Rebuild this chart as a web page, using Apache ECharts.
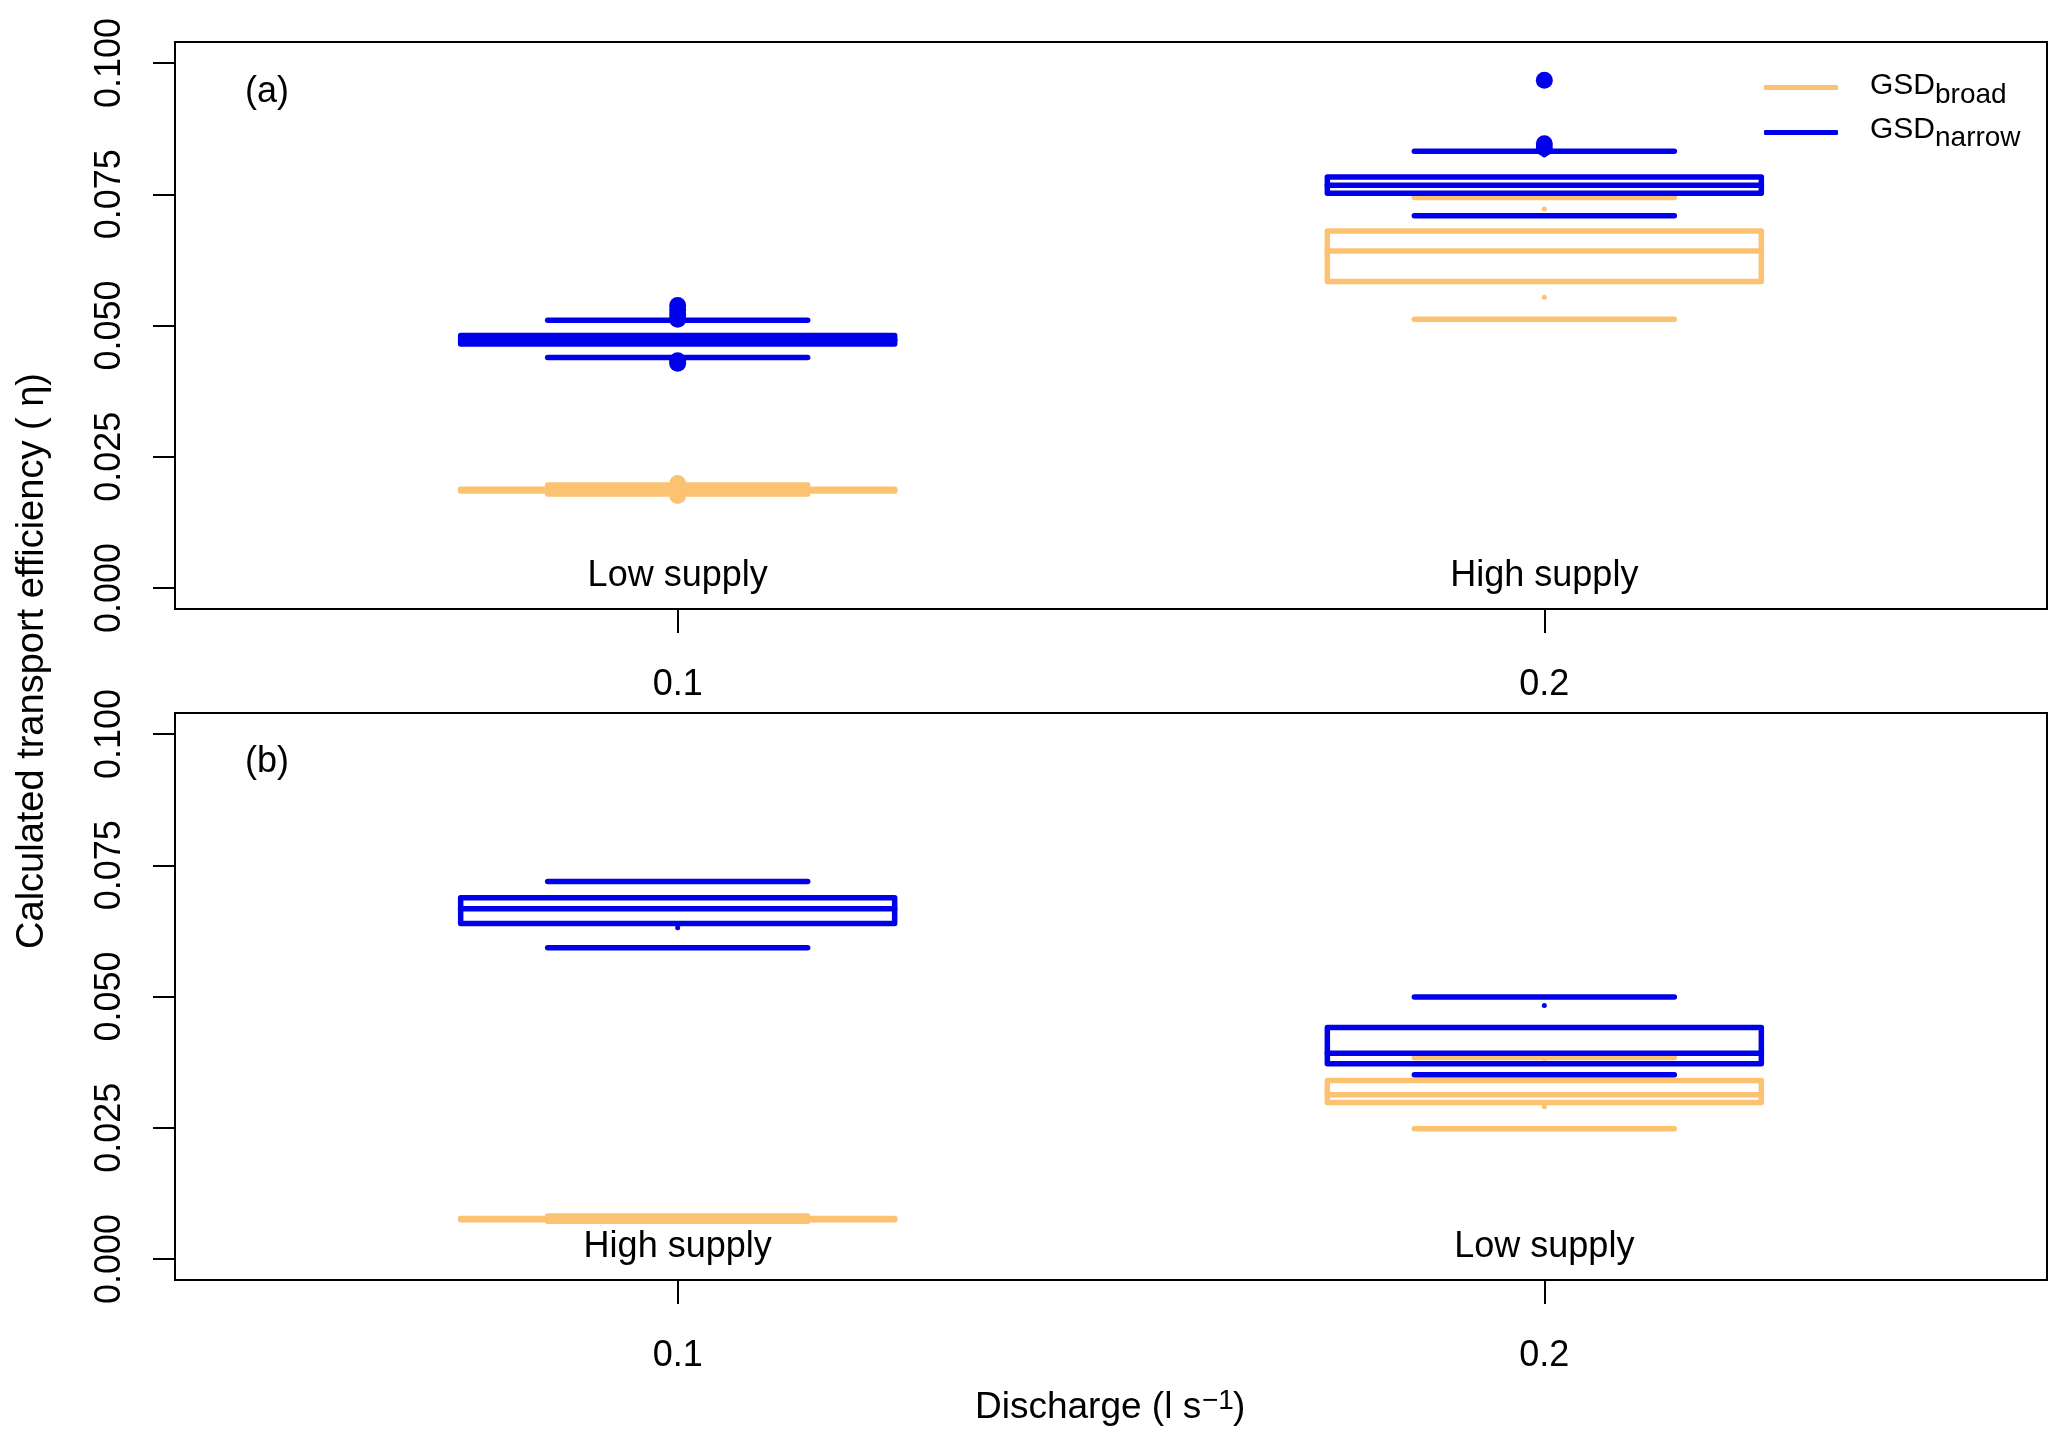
<!DOCTYPE html>
<html><head><meta charset="utf-8">
<script src="https://cdn.jsdelivr.net/npm/echarts@6/dist/echarts.min.js"></script>
<style>html,body{margin:0;padding:0;background:#fff}#c{width:2067px;height:1448px}</style>
</head><body><div id="c"></div>
<script>
// ---------------- data ----------------
const discharge = [0.1, 0.2];
const yTicks = [0, 0.025, 0.05, 0.075, 0.1];
// box statistics per discharge: [q1, median, q3, lowerWhisker, upperWhisker]
const broadA  = [[0.0185, 0.0187, 0.0188, 0.0179, 0.0196], [0.0584, 0.0642, 0.0680, 0.0512, 0.0744]];
const narrowA = [[0.0465, 0.0473, 0.0481, 0.0439, 0.0510], [0.0752, 0.0767, 0.0783, 0.0709, 0.0832]];
const broadB  = [[0.0075, 0.0076, 0.0077, 0.0072, 0.0082], [0.0298, 0.0313, 0.0340, 0.0248, 0.0384]];
const narrowB = [[0.0639, 0.0667, 0.0688, 0.0593, 0.0719], [0.0372, 0.0392, 0.0441, 0.0351, 0.0499]];
// outliers [discharge, value]
const broadAOut  = [[0.1, 0.0176], [0.1, 0.0199]];
const narrowAOut = [[0.1, 0.0512], [0.1, 0.0520], [0.1, 0.0530], [0.1, 0.0538], [0.1, 0.0428], [0.1, 0.0433],
                    [0.2, 0.0967], [0.2, 0.0846], [0.2, 0.0838]];
// small whisker marks [discharge, value]
const broadADots  = [[0.2, 0.0722], [0.2, 0.0554]];
const narrowADots = [[0.2, 0.0825]];
const broadBDots  = [[0.2, 0.0382], [0.2, 0.0290]];
const narrowBDots = [[0.1, 0.0631], [0.2, 0.0483]];
const supplyA = ['Low supply', 'High supply'];
const supplyB = ['High supply', 'Low supply'];
const panelLabels = ['(a)', '(b)'];
const legendMain = ['GSD', 'GSD'];
const legendSub = ['broad', 'narrow'];

// ---------------- style ----------------
const FONT = 'Liberation Sans, Arial, Helvetica, sans-serif';
const ORANGE = '#FBC272';
const BLUE = '#0000EA';
const GRID_TOP = [42, 713];
const GRID_H = 567;

function boxSeries(name, stats, g, color) {
  return {
    type: 'custom', name: name, xAxisIndex: g, yAxisIndex: g,
    itemStyle: { color: color },
    data: stats.map((s, i) => [discharge[i]].concat(s)),
    encode: { x: 0, y: [1, 2, 3, 4, 5] },
    renderItem: function (params, api) {
      const x = api.value(0);
      const q1 = api.coord([x, api.value(1)]);
      const md = api.coord([x, api.value(2)]);
      const q3 = api.coord([x, api.value(3)]);
      const lo = api.coord([x, api.value(4)]);
      const hi = api.coord([x, api.value(5)]);
      const cx = q1[0];
      const bw = 217, cw = 130;
      const st = { stroke: color, lineWidth: 5.5, fill: 'none', lineCap: 'round', lineJoin: 'round' };
      return {
        type: 'group', children: [
          { type: 'line', shape: { x1: cx - cw, y1: lo[1], x2: cx + cw, y2: lo[1] }, style: st },
          { type: 'line', shape: { x1: cx - cw, y1: hi[1], x2: cx + cw, y2: hi[1] }, style: st },
          { type: 'rect', shape: { x: cx - bw, y: q3[1], width: 2 * bw, height: q1[1] - q3[1] }, style: st },
          { type: 'line', shape: { x1: cx - bw, y1: md[1], x2: cx + bw, y2: md[1] }, style: st }
        ]
      };
    }
  };
}
function pointSeries(name, data, g, color, size) {
  return {
    type: 'scatter', name: name, xAxisIndex: g, yAxisIndex: g, data: data,
    symbol: 'circle', symbolSize: size, itemStyle: { color: color, opacity: 1 }, silent: true
  };
}
function supplySeries(labels, g) {
  return {
    type: 'custom', name: 'supply' + g, xAxisIndex: g, yAxisIndex: g, silent: true,
    data: discharge.map(d => [d, 0]),
    renderItem: function (params, api) {
      const p = api.coord([api.value(0), api.value(1)]);
      return {
        type: 'text', x: p[0], y: p[1] - 12,
        style: { text: labels[params.dataIndex], fontSize: 36, fontFamily: FONT, fill: '#000',
                 align: 'center', verticalAlign: 'middle', textAlign: 'center', textVerticalAlign: 'middle' }
      };
    }
  };
}
function txt(text, x, y, size, align, extra) {
  return Object.assign({ type: 'text', x: x, y: y,
    style: { text: text, fontSize: size, fontFamily: FONT, fill: '#000',
             align: align, verticalAlign: 'middle', textAlign: align, textVerticalAlign: 'middle' } }, extra || {});
}

const grids = GRID_TOP.map(t => ({ left: 175, right: 20, top: t, height: GRID_H, show: true,
  borderColor: '#000', borderWidth: 2, backgroundColor: 'transparent', containLabel: false }));

const xAxes = [0, 1].map(i => ({
  type: 'value', gridIndex: i, min: 0.042, max: 0.258, position: 'bottom',
  axisLine: { show: false, onZero: false }, splitLine: { show: false },
  axisTick: { show: true, inside: false, customValues: discharge, length: 24, lineStyle: { color: '#000', width: 2 } },
  axisLabel: { show: true, customValues: discharge, fontSize: 36, fontFamily: FONT, color: '#000', margin: 58,
               formatter: v => String(v) }
}));
const yAxes = [0, 1].map(i => ({
  type: 'value', gridIndex: i, min: -0.004, max: 0.104,
  axisLine: { show: false, onZero: false }, splitLine: { show: false },
  axisTick: { show: true, customValues: yTicks, length: 22, lineStyle: { color: '#000', width: 2 } },
  axisLabel: { show: true, customValues: yTicks, rotate: 90, fontSize: 36, fontFamily: FONT, color: '#000', margin: 47,
               formatter: v => Number(v).toFixed(3) }
}));

const series = [
  boxSeries('GSDbroad', broadA, 0, ORANGE),
  pointSeries('GSDbroad', broadAOut, 0, ORANGE, 17),
  pointSeries('GSDbroad', broadADots, 0, ORANGE, 5),
  boxSeries('GSDnarrow', narrowA, 0, BLUE),
  pointSeries('GSDnarrow', narrowAOut, 0, BLUE, 17),
  pointSeries('GSDnarrow', narrowADots, 0, BLUE, 5),
  boxSeries('GSDbroad', broadB, 1, ORANGE),
  pointSeries('GSDbroad', broadBDots, 1, ORANGE, 5),
  boxSeries('GSDnarrow', narrowB, 1, BLUE),
  pointSeries('GSDnarrow', narrowBDots, 1, BLUE, 5),
  supplySeries(supplyA, 0),
  supplySeries(supplyB, 1)
];

// legend labels (main text + subscript), baselines at 96 / 139 px
const legendText = [];
[0, 1].forEach(i => {
  const base = [96, 139.5][i];
  legendText.push(txt(legendMain[i], 1870, base - 10, 30, 'left'));
  legendText.push(txt(legendSub[i], 1935, base + 8 - 9, 28, 'left'));
});

const chart = echarts.init(document.getElementById('c'), null, { renderer: 'canvas' });
chart.setOption({
  animation: false,
  backgroundColor: '#fff',
  grid: grids,
  xAxis: xAxes,
  yAxis: yAxes,
  legend: {
    orient: 'vertical', left: 1764, top: 85, padding: 0, itemGap: 40,
    itemWidth: 74, itemHeight: 5, icon: 'roundRect', selectedMode: false,
    data: [
      { name: 'GSDbroad', itemStyle: { color: ORANGE } },
      { name: 'GSDnarrow', itemStyle: { color: BLUE } }
    ],
    formatter: () => '',
    textStyle: { fontSize: 5, lineHeight: 5 }
  },
  graphic: [
    txt(panelLabels[0], 245, 92, 36, 'left'),
    txt(panelLabels[1], 245, 762, 36, 'left'),
    txt('Calculated transport efficiency ( η)', 33, 661, 38, 'center', { rotation: Math.PI / 2 }),
    // x-axis title: "Discharge (l s" + superscript "−1" + ")"
    txt('Discharge (l s', 975, 1420 - 12, 37, 'left'),
    txt('\u22121', 1202, 1410 - 9, 28, 'left'),
    txt(')', 1233, 1420 - 12, 37, 'left')
  ].concat(legendText),
  series: series
});
</script>
</body></html>
